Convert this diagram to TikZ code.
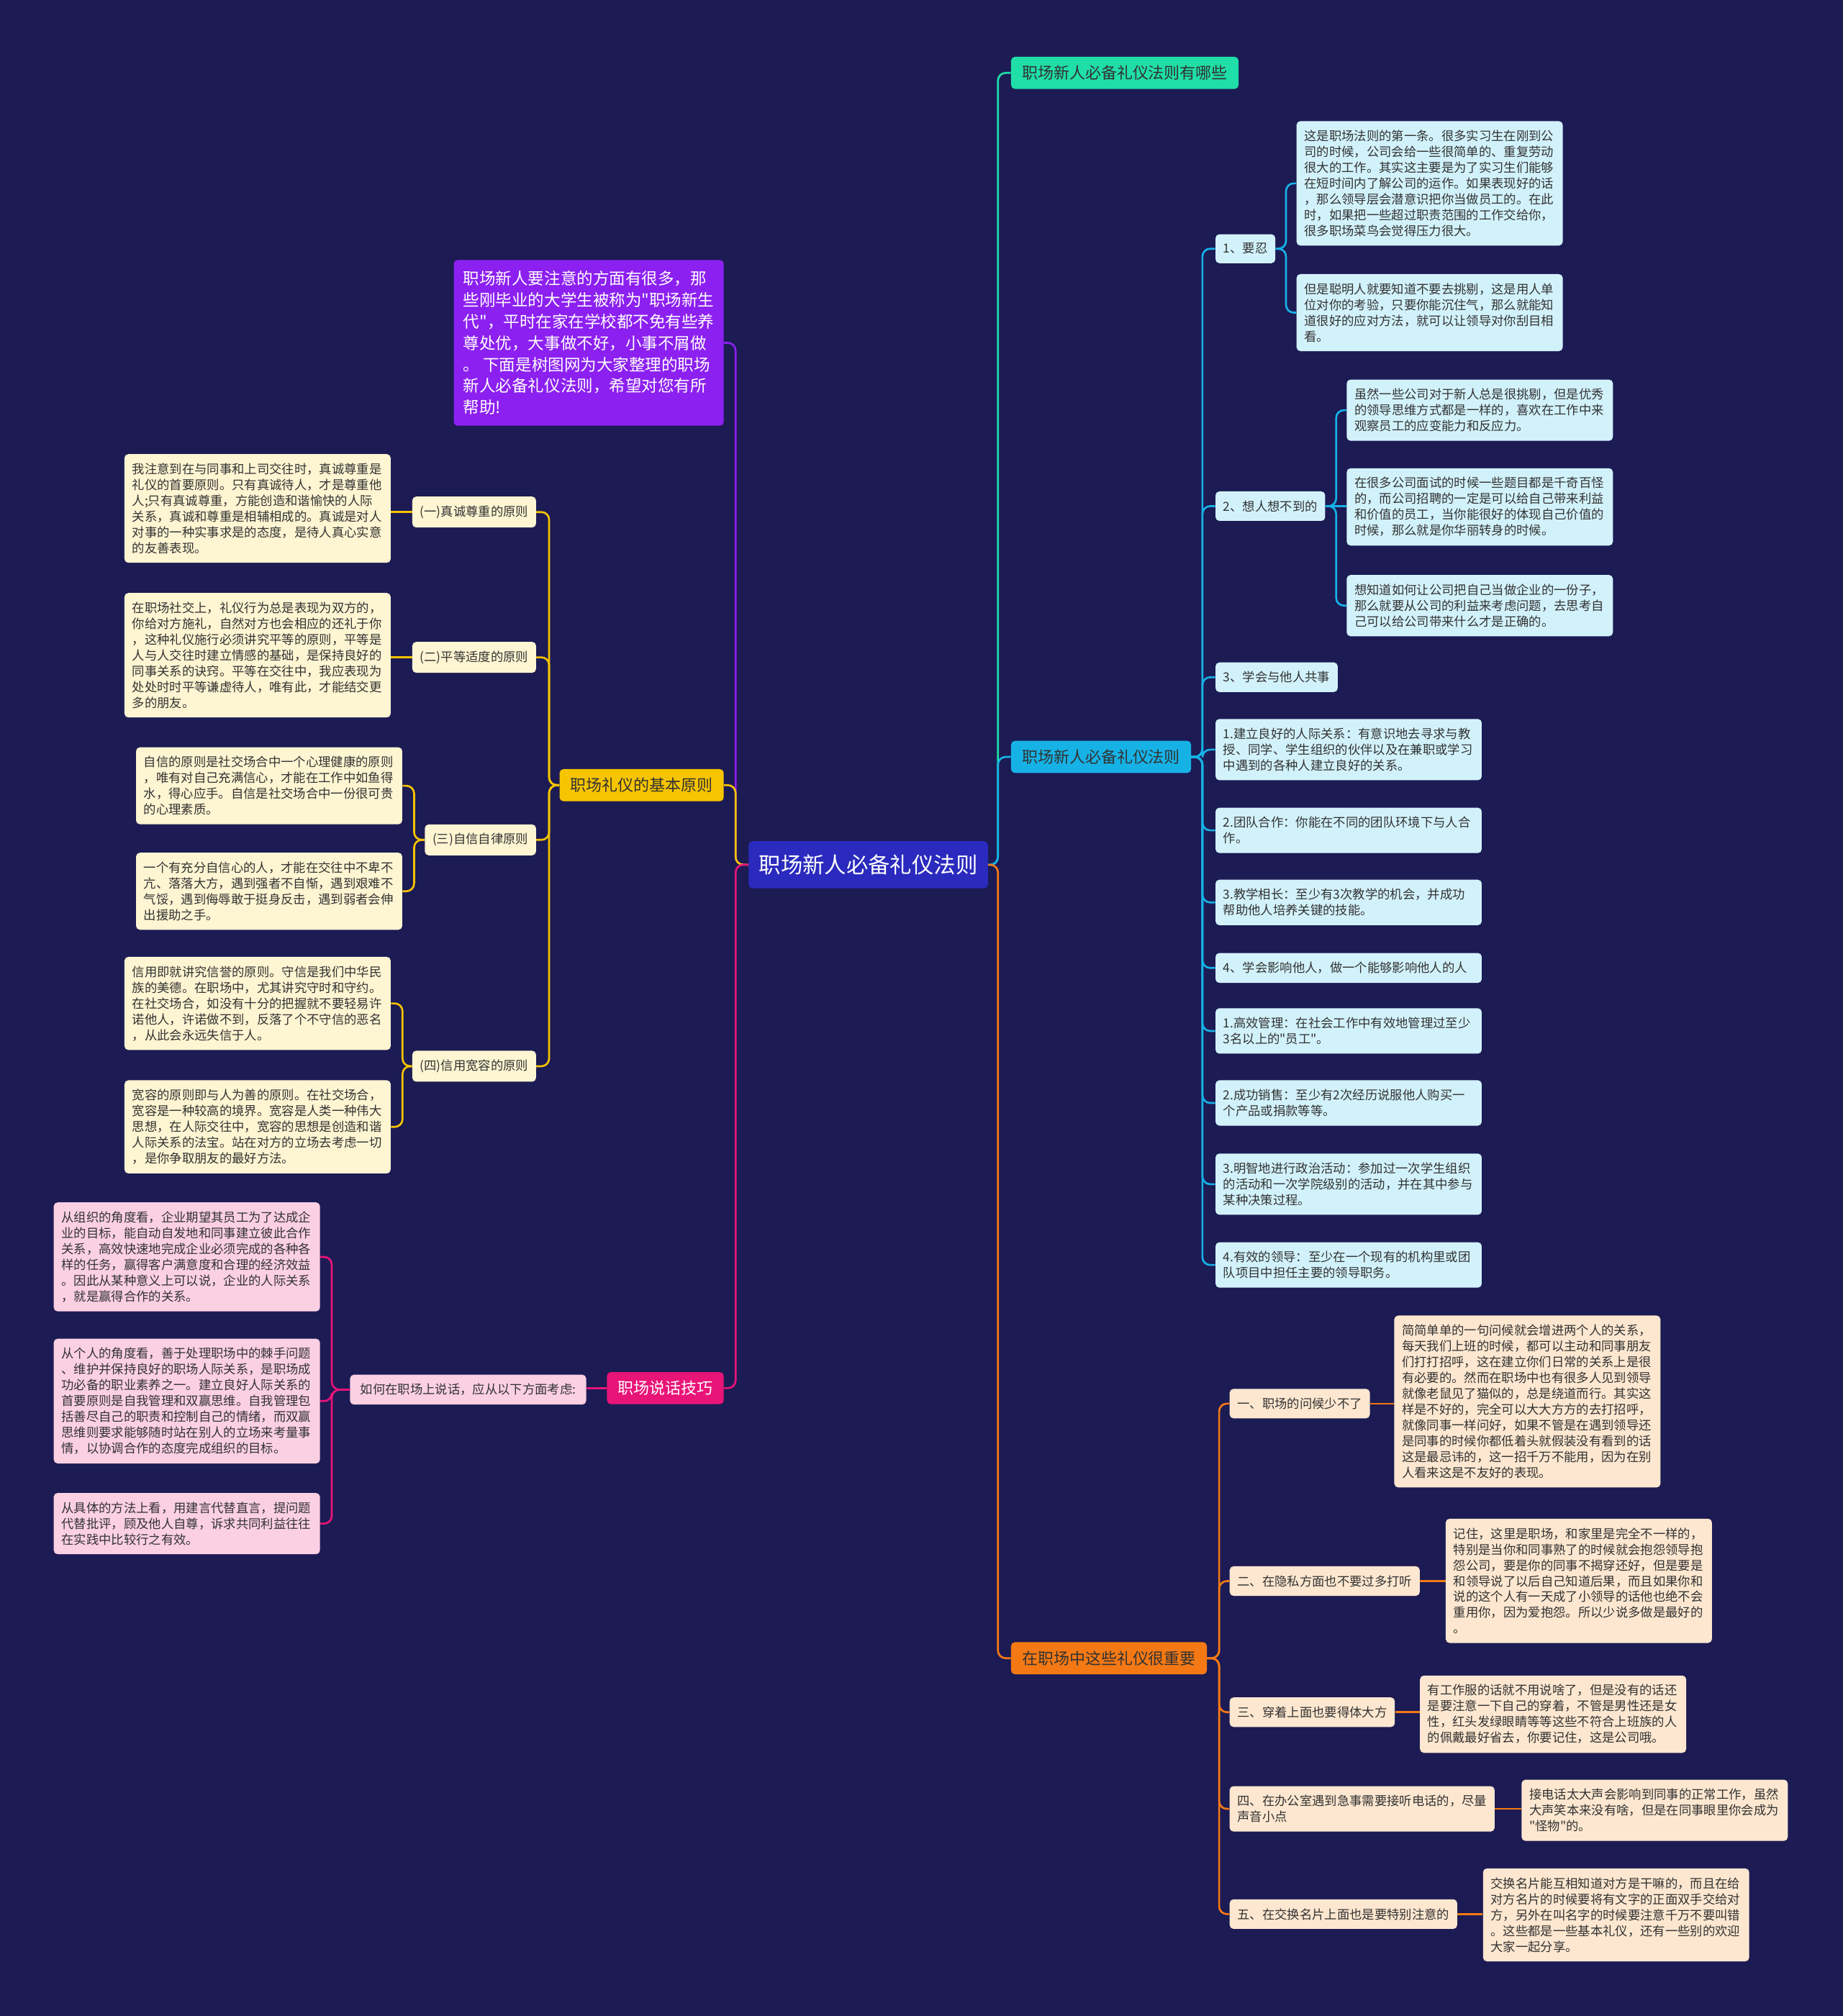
\documentclass[tikz,border=0pt]{standalone}
\usepackage{fontspec}
\newfontfamily\cjk{Noto Sans CJK SC}
\newcommand\fsz[2]{\fontsize{#1}{#2}\selectfont\cjk}
\definecolor{bg}{RGB}{28,27,84}
\definecolor{cCenter}{RGB}{42,42,190}
\definecolor{cPurple}{RGB}{140,32,240}
\definecolor{cYel}{RGB}{246,196,0}
\definecolor{cYelL}{RGB}{254,245,210}
\definecolor{cPink}{RGB}{232,20,120}
\definecolor{cPinkL}{RGB}{251,208,226}
\definecolor{cTeal}{RGB}{31,222,168}
\definecolor{cBlue}{RGB}{22,178,230}
\definecolor{cBlueL}{RGB}{210,242,251}
\definecolor{cOr}{RGB}{244,121,20}
\definecolor{cOrL}{RGB}{253,231,208}
\definecolor{txt}{RGB}{50,50,50}
\tikzset{
  box/.style={rounded corners=3pt, inner xsep=6pt, inner ysep=7pt, font=\fsz{9.7}{12.3}, text=txt},
  lab/.style={box, align=left},
  note/.style={box, align=left, text width=195pt},
  branch/.style={rounded corners=3pt, inner xsep=8.5pt, inner ysep=6.8pt, font=\fsz{12.3}{15}, text=txt},
  conn/.style={line width=1.5pt, rounded corners=6pt},
}
\begin{document}
\begin{tikzpicture}[x=1pt,y=-1pt]
\fill[bg] (0,0) rectangle (1433,1568);
\useasboundingbox (0,0) rectangle (1433,1568);

% centre
\node[anchor=north west, fill=cCenter, text=white, font=\fsz{17}{20}, inner xsep=8pt, inner ysep=10.5pt, rounded corners=3pt] (C) at (582,654) {职场新人必备礼仪法则};

% left: purple
\node[anchor=north east, fill=cPurple, text=white, font=\fsz{12.6}{16.7}, inner xsep=7.5pt, inner ysep=8.5pt, rounded corners=3pt, align=left] (PU) at (563,202) {职场新人要注意的方面有很多，那\\些刚毕业的大学生被称为"职场新生\\代"，平时在家在学校都不免有些养\\尊处优，大事做不好，小事不屑做\\。~下面是树图网为大家整理的职场\\新人必备礼仪法则，希望对您有所\\帮助!};

% left: yellow
\node[branch, anchor=north east, fill=cYel] (Y) at (563,598) {职场礼仪的基本原则};
\node[lab, anchor=north east, fill=cYelL] (Y1) at (417,386) {(一)真诚尊重的原则};
\node[note, anchor=north east, fill=cYelL] (Y1n) at (304,353) {我注意到在与同事和上司交往时，真诚尊重是\\礼仪的首要原则。只有真诚待人，才是尊重他\\人;只有真诚尊重，方能创造和谐愉快的人际\\关系，真诚和尊重是相辅相成的。真诚是对人\\对事的一种实事求是的态度，是待人真心实意\\的友善表现。};
\node[lab, anchor=north east, fill=cYelL] (Y2) at (417,499) {(二)平等适度的原则};
\node[note, anchor=north east, fill=cYelL] (Y2n) at (304,461) {在职场社交上，礼仪行为总是表现为双方的，\\你给对方施礼，自然对方也会相应的还礼于你\\，这种礼仪施行必须讲究平等的原则，平等是\\人与人交往时建立情感的基础，是保持良好的\\同事关系的诀窍。平等在交往中，我应表现为\\处处时时平等谦虚待人，唯有此，才能结交更\\多的朋友。};
\node[lab, anchor=north east, fill=cYelL] (Y3) at (417,641) {(三)自信自律原则};
\node[note, anchor=north east, fill=cYelL] (Y3a) at (313,581) {自信的原则是社交场合中一个心理健康的原则\\，唯有对自己充满信心，才能在工作中如鱼得\\水，得心应手。自信是社交场合中一份很可贵\\的心理素质。};
\node[note, anchor=north east, fill=cYelL] (Y3b) at (313,663) {一个有充分自信心的人，才能在交往中不卑不\\亢、落落大方，遇到强者不自惭，遇到艰难不\\气馁，遇到侮辱敢于挺身反击，遇到弱者会伸\\出援助之手。};
\node[lab, anchor=north east, fill=cYelL] (Y4) at (417,817) {(四)信用宽容的原则};
\node[note, anchor=north east, fill=cYelL] (Y4a) at (304,744) {信用即就讲究信誉的原则。守信是我们中华民\\族的美德。在职场中，尤其讲究守时和守约。\\在社交场合，如没有十分的把握就不要轻易许\\诺他人，许诺做不到，反落了个不守信的恶名\\，从此会永远失信于人。};
\node[note, anchor=north east, fill=cYelL] (Y4b) at (304,840) {宽容的原则即与人为善的原则。在社交场合，\\宽容是一种较高的境界。宽容是人类一种伟大\\思想，在人际交往中，宽容的思想是创造和谐\\人际关系的法宝。站在对方的立场去考虑一切\\，是你争取朋友的最好方法。};

% left: pink
\node[branch, anchor=north east, fill=cPink, text=white] (P) at (563,1067) {职场说话技巧};
\node[lab, anchor=north east, fill=cPinkL, inner xsep=8pt] (PL) at (456,1069) {如何在职场上说话，应从以下方面考虑:};
\node[note, anchor=north east, fill=cPinkL] (P1) at (249,935) {从组织的角度看，企业期望其员工为了达成企\\业的目标，能自动自发地和同事建立彼此合作\\关系，高效快速地完成企业必须完成的各种各\\样的任务，赢得客户满意度和合理的经济效益\\。因此从某种意义上可以说，企业的人际关系\\，就是赢得合作的关系。};
\node[note, anchor=north east, fill=cPinkL] (P2) at (249,1041) {从个人的角度看，善于处理职场中的棘手问题\\、维护并保持良好的职场人际关系，是职场成\\功必备的职业素养之一。建立良好人际关系的\\首要原则是自我管理和双赢思维。自我管理包\\括善尽自己的职责和控制自己的情绪，而双赢\\思维则要求能够随时站在别人的立场来考量事\\情，以协调合作的态度完成组织的目标。};
\node[note, anchor=north east, fill=cPinkL] (P3) at (249,1161) {从具体的方法上看，用建言代替直言，提问题\\代替批评，顾及他人自尊，诉求共同利益往往\\在实践中比较行之有效。};

% right: branches
\node[branch, anchor=north west, fill=cTeal] (B1) at (786,44) {职场新人必备礼仪法则有哪些};
\node[branch, anchor=north west, fill=cBlue] (B2) at (786,576) {职场新人必备礼仪法则};
\node[branch, anchor=north west, fill=cOr] (B3) at (786,1277) {在职场中这些礼仪很重要};

% B2 children
\node[lab, anchor=north west, fill=cBlueL] (R1) at (945,182) {1、要忍};
\node[note, anchor=north west, fill=cBlueL] (R1a) at (1008,94) {这是职场法则的第一条。很多实习生在刚到公\\司的时候，公司会给一些很简单的、重复劳动\\很大的工作。其实这主要是为了实习生们能够\\在短时间内了解公司的运作。如果表现好的话\\，那么领导层会潜意识把你当做员工的。在此\\时，如果把一些超过职责范围的工作交给你，\\很多职场菜鸟会觉得压力很大。};
\node[note, anchor=north west, fill=cBlueL] (R1b) at (1008,213) {但是聪明人就要知道不要去挑剔，这是用人单\\位对你的考验，只要你能沉住气，那么就能知\\道很好的应对方法，就可以让领导对你刮目相\\看。};
\node[lab, anchor=north west, fill=cBlueL] (R2) at (945,382) {2、想人想不到的};
\node[note, anchor=north west, fill=cBlueL] (R2a) at (1047,295) {虽然一些公司对于新人总是很挑剔，但是优秀\\的领导思维方式都是一样的，喜欢在工作中来\\观察员工的应变能力和反应力。};
\node[note, anchor=north west, fill=cBlueL] (R2b) at (1047,364) {在很多公司面试的时候一些题目都是千奇百怪\\的，而公司招聘的一定是可以给自己带来利益\\和价值的员工，当你能很好的体现自己价值的\\时候，那么就是你华丽转身的时候。};
\node[note, anchor=north west, fill=cBlueL] (R2c) at (1047,447) {想知道如何让公司把自己当做企业的一份子，\\那么就要从公司的利益来考虑问题，去思考自\\己可以给公司带来什么才是正确的。};
\node[lab, anchor=north west, fill=cBlueL] (R3) at (945,515) {3、学会与他人共事};
\node[note, anchor=north west, fill=cBlueL] (R4) at (945,559) {1.建立良好的人际关系：有意识地去寻求与教\\授、同学、学生组织的伙伴以及在兼职或学习\\中遇到的各种人建立良好的关系。};
\node[note, anchor=north west, fill=cBlueL] (R5) at (945,628) {2.团队合作：你能在不同的团队环境下与人合\\作。};
\node[note, anchor=north west, fill=cBlueL] (R6) at (945,684) {3.教学相长：至少有3次教学的机会，并成功\\帮助他人培养关键的技能。};
\node[note, anchor=north west, fill=cBlueL] (R7) at (945,741) {4、学会影响他人，做一个能够影响他人的人};
\node[note, anchor=north west, fill=cBlueL] (R8) at (945,784) {1.高效管理：在社会工作中有效地管理过至少\\3名以上的"员工"。};
\node[note, anchor=north west, fill=cBlueL] (R9) at (945,840) {2.成功销售：至少有2次经历说服他人购买一\\个产品或捐款等等。};
\node[note, anchor=north west, fill=cBlueL] (R10) at (945,897) {3.明智地进行政治活动：参加过一次学生组织\\的活动和一次学院级别的活动，并在其中参与\\某种决策过程。};
\node[note, anchor=north west, fill=cBlueL] (R11) at (945,966) {4.有效的领导：至少在一个现有的机构里或团\\队项目中担任主要的领导职务。};

% B3 children
\node[lab, anchor=north west, fill=cOrL] (O1) at (956,1080) {一、职场的问候少不了};
\node[note, anchor=north west, fill=cOrL] (O1n) at (1084,1023) {简简单单的一句问候就会增进两个人的关系，\\每天我们上班的时候，都可以主动和同事朋友\\们打打招呼，这在建立你们日常的关系上是很\\有必要的。然而在职场中也有很多人见到领导\\就像老鼠见了猫似的，总是绕道而行。其实这\\样是不好的，完全可以大大方方的去打招呼，\\就像同事一样问好，如果不管是在遇到领导还\\是同事的时候你都低着头就假装没有看到的话\\这是最忌讳的，这一招千万不能用，因为在别\\人看来这是不友好的表现。};
\node[lab, anchor=north west, fill=cOrL] (O2) at (956,1218) {二、在隐私方面也不要过多打听};
\node[note, anchor=north west, fill=cOrL] (O2n) at (1124,1181) {记住，这里是职场，和家里是完全不一样的，\\特别是当你和同事熟了的时候就会抱怨领导抱\\怨公司，要是你的同事不揭穿还好，但是要是\\和领导说了以后自己知道后果，而且如果你和\\说的这个人有一天成了小领导的话他也绝不会\\重用你，因为爱抱怨。所以少说多做是最好的\\。};
\node[lab, anchor=north west, fill=cOrL] (O3) at (956,1320) {三、穿着上面也要得体大方};
\node[note, anchor=north west, fill=cOrL] (O3n) at (1104,1303) {有工作服的话就不用说啥了，但是没有的话还\\是要注意一下自己的穿着，不管是男性还是女\\性，红头发绿眼睛等等这些不符合上班族的人\\的佩戴最好省去，你要记住，这是公司哦。};
\node[lab, anchor=north west, fill=cOrL] (O4) at (956,1389) {四、在办公室遇到急事需要接听电话的，尽量\\声音小点};
\node[note, anchor=north west, fill=cOrL] (O4n) at (1183,1384) {接电话太大声会影响到同事的正常工作，虽然\\大声笑本来没有啥，但是在同事眼里你会成为\\"怪物"的。};
\node[lab, anchor=north west, fill=cOrL] (O5) at (956,1477) {五、在交换名片上面也是要特别注意的};
\node[note, anchor=north west, fill=cOrL] (O5n) at (1153,1453) {交换名片能互相知道对方是干嘛的，而且在给\\对方名片的时候要将有文字的正面双手交给对\\方，另外在叫名字的时候要注意千万不要叫错\\。这些都是一些基本礼仪，还有一些别的欢迎\\大家一起分享。};

% spine coordinates
\coordinate (s0R) at (776,0);
\coordinate (s0L) at (572,0);
\coordinate (sB2) at (935,0);
\coordinate (sB3) at (948,0);
\coordinate (sR1) at (1000,0);
\coordinate (sR2) at (1039,0);
\coordinate (sY) at (427,0);
\coordinate (sY3) at (322,0);
\coordinate (sY4) at (313,0);
\coordinate (sP) at (258,0);

% connectors: centre
\draw[conn, cTeal] (C.east) -- (C.east -| s0R) |- (B1.west);
\draw[conn, cBlue] (C.east) -- (C.east -| s0R) |- (B2.west);
\draw[conn, cOr] (C.east) -- (C.east -| s0R) |- (B3.west);
\draw[conn, cPurple] (C.west) -- (C.west -| s0L) |- (PU.east);
\draw[conn, cYel] (C.west) -- (C.west -| s0L) |- (Y.east);
\draw[conn, cPink] (C.west) -- (C.west -| s0L) |- (P.east);

% yellow
\foreach \n in {Y1,Y2,Y3,Y4}{\draw[conn, cYel] (Y.west) -- (Y.west -| sY) |- (\n.east);}
\draw[conn, cYel] (Y1.west) -- (Y1.west -| Y1n.east);
\draw[conn, cYel] (Y2.west) -- (Y2.west -| Y2n.east);
\draw[conn, cYel] (Y3.west) -- (Y3.west -| sY3) |- (Y3a.east);
\draw[conn, cYel] (Y3.west) -- (Y3.west -| sY3) |- (Y3b.east);
\draw[conn, cYel] (Y4.west) -- (Y4.west -| sY4) |- (Y4a.east);
\draw[conn, cYel] (Y4.west) -- (Y4.west -| sY4) |- (Y4b.east);

% pink
\draw[conn, cPink] (P.west) -- (P.west -| PL.east);
\foreach \n in {P1,P2,P3}{\draw[conn, cPink] (PL.west) -- (PL.west -| sP) |- (\n.east);}

% blue
\foreach \n in {R1,R2,R3,R4,R5,R6,R7,R8,R9,R10,R11}{\draw[conn, cBlue] (B2.east) -- (B2.east -| sB2) |- (\n.west);}
\draw[conn, cBlue] (R1.east) -- (R1.east -| sR1) |- (R1a.west);
\draw[conn, cBlue] (R1.east) -- (R1.east -| sR1) |- (R1b.west);
\draw[conn, cBlue] (R2.east) -- (R2.east -| sR2) |- (R2a.west);
\draw[conn, cBlue] (R2.east) -- (R2.east -| R2b.west);
\draw[conn, cBlue] (R2.east) -- (R2.east -| sR2) |- (R2c.west);

% orange
\foreach \n in {O1,O2,O3,O4,O5}{\draw[conn, cOr] (B3.east) -- (B3.east -| sB3) |- (\n.west);}
\draw[conn, cOr] (O1.east) -- (O1.east -| O1n.west);
\draw[conn, cOr] (O2.east) -- (O2.east -| O2n.west);
\draw[conn, cOr] (O3.east) -- (O3.east -| O3n.west);
\draw[conn, cOr] (O4.east) -- (O4.east -| O4n.west);
\draw[conn, cOr] (O5.east) -- (O5.east -| O5n.west);
\end{tikzpicture}
\end{document}
